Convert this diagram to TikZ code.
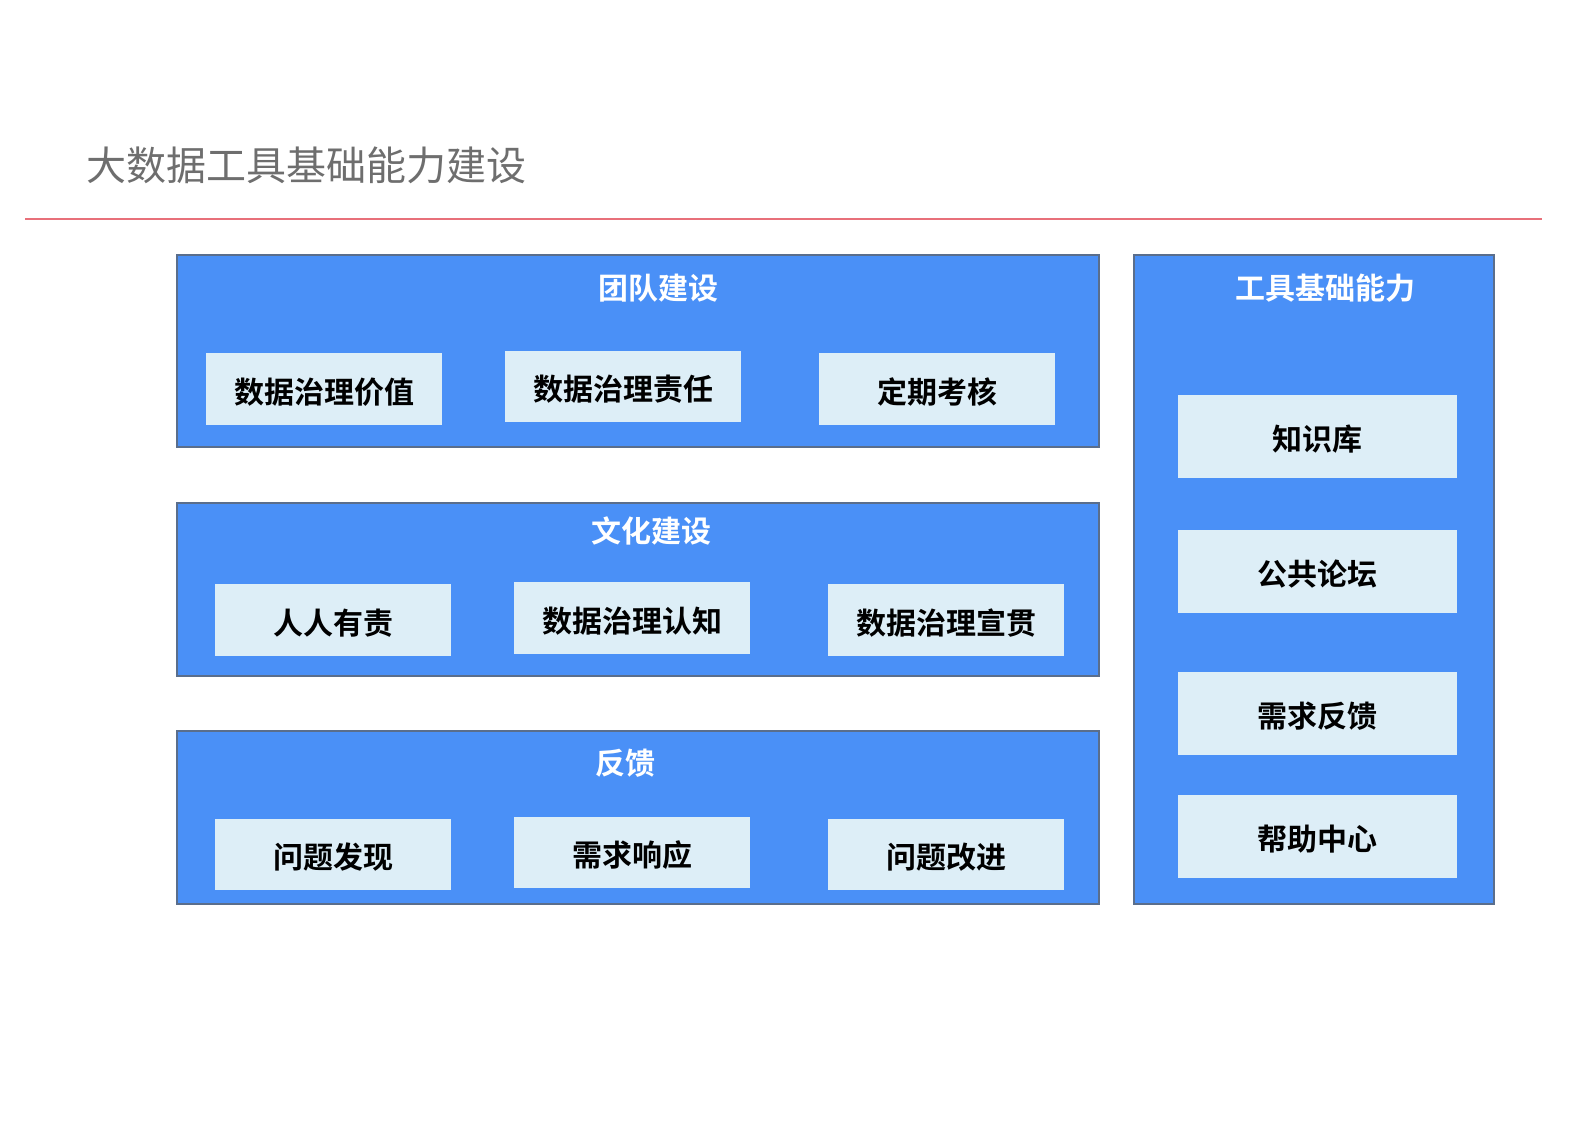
\documentclass[tikz,border=0pt]{standalone}
\usepackage{fontspec}
\newfontfamily\cjk{Noto Sans CJK SC}
\newfontfamily\cjkb{Noto Sans CJK SC Bold}
\definecolor{panel}{HTML}{4A90F7}
\definecolor{pborder}{HTML}{5A6E8C}
\definecolor{inner}{HTML}{DDEEF7}
\definecolor{redline}{HTML}{E8707A}
\definecolor{titlegray}{HTML}{6E6E6E}
\tikzset{
  panelbox/.style={draw=pborder,line width=1.2pt,fill=panel},
  innerbox/.style={fill=inner,draw=none},
  ptitle/.style={text=white,font=\cjkb\fontsize{30}{30}\selectfont},
  itext/.style={text=black,font=\cjkb\fontsize{30}{30}\selectfont},
}
\begin{document}
\begin{tikzpicture}[x=1pt,y=-1pt]
\useasboundingbox (0,0) rectangle (1587,1122);
\node[anchor=west,text=titlegray,font=\cjk\fontsize{40}{40}\selectfont] (title) at (83,165) {大数据工具基础能力建设};
\coordinate (la) at (25,219); \coordinate (lb) at (1542,219);
\draw[redline,line width=1.5pt] (la) -- (lb);
% panels
\draw[panelbox] (177,255) rectangle (1099,447);
\draw[panelbox] (177,503) rectangle (1099,676);
\draw[panelbox,line width=2pt] (177,731) rectangle (1099,904);
\draw[panelbox] (1134,255) rectangle (1494,904);
\node[ptitle] (t1) at (658,288) {团队建设};
\node[ptitle] (t2) at (651,531) {文化建设};
\node[ptitle] (t3) at (625,763) {反馈};
\node[ptitle] (t4) at (1325,288) {工具基础能力};
% inner boxes
\newcommand{\ibox}[6]{\fill[inner] (#2,#3) rectangle (#4,#5);
  \node[itext] (#1) at ({(#2+#4)/2},{(#3+#5)/2+3}) {#6};}
\ibox{a1}{206}{353}{442}{425}{数据治理价值}
\ibox{a2}{505}{351}{741}{422}{数据治理责任}
\ibox{a3}{819}{353}{1055}{425}{定期考核}
\ibox{b1}{215}{584}{451}{656}{人人有责}
\ibox{b2}{514}{582}{750}{654}{数据治理认知}
\ibox{b3}{828}{584}{1064}{656}{数据治理宣贯}
\ibox{c1}{215}{819}{451}{890}{问题发现}
\ibox{c2}{514}{817}{750}{888}{需求响应}
\ibox{c3}{828}{819}{1064}{890}{问题改进}
\ibox{d1}{1178}{395}{1457}{478}{知识库}
\ibox{d2}{1178}{530}{1457}{613}{公共论坛}
\ibox{d3}{1178}{672}{1457}{755}{需求反馈}
\ibox{d4}{1178}{795}{1457}{878}{帮助中心}
\end{tikzpicture}
\end{document}
